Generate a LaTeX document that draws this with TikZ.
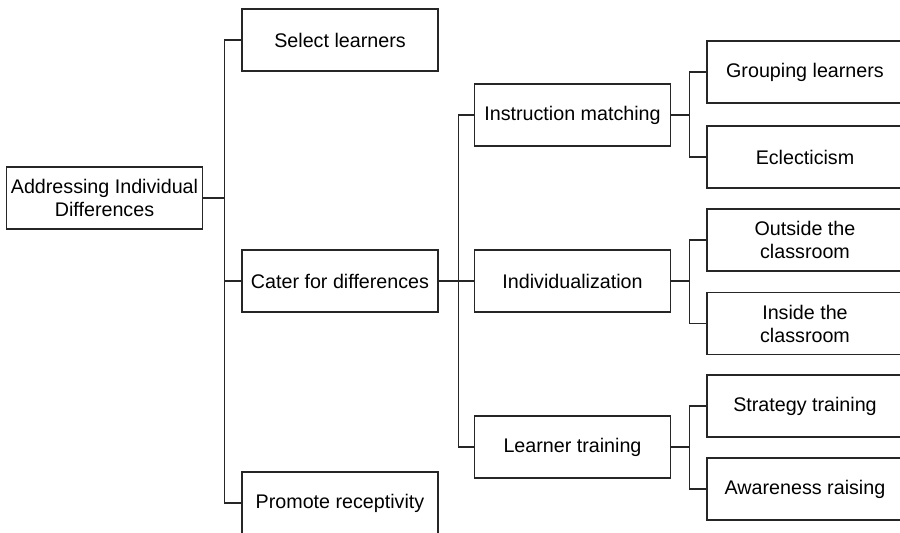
\documentclass[tikz,border=0pt]{standalone}
\usepackage{fontspec}
\setmainfont{Liberation Sans}
\usetikzlibrary{positioning}

\begin{document}
\begin{tikzpicture}[
    x=.5pt,
    y=-.5pt,
    box/.style={
      draw=black!85,
      line width=.7pt,
      minimum width=98pt,
      minimum height=31pt,
      inner sep=1pt,
      align=center,
      font=\fontsize{9.85}{11.5}\selectfont,
    },
    link/.style={
      line width=.7pt,
      color=black!85,
    },
  ]
    \useasboundingbox (0,0) rectangle (900,532);
    \clip (0,0) rectangle (900,532);

    % root and first level
    \node[box] (root) at (104.5,198) {Addressing Individual\\Differences};
    \node[box] (select) at (340,40) {Select learners};
    \node[box] (cater) at (340,281) {Cater for differences};
    \node[box] (promote) at (340,503) {Promote receptivity};

    % second level
    \node[box] (matching) at (572.5,115) {Instruction matching};
    \node[box] (indiv) at (572.5,281) {Individualization};
    \node[box] (training) at (572.5,447) {Learner training};

    % leaves
    \node[box] (grouping) at (805,72) {Grouping learners};
    \node[box] (eclectic) at (805,157) {Eclecticism};
    \node[box] (outside) at (805,240) {Outside the\\classroom};
    \node[box] (inside) at (805,323.5) {Inside the\\classroom};
    \node[box] (strategy) at (805,406) {Strategy training};
    \node[box] (awareness) at (805,489) {Awareness raising};

    \foreach \kid in {select,cater,promote}
      \draw[link] (root.east) -- ++(21,0) |- (\kid.west);
    \foreach \kid in {matching,indiv,training}
      \draw[link] (cater.east) -- ++(20,0) |- (\kid.west);

    \foreach \kid in {grouping,eclectic}
      \draw[link] (matching.east) -- ++(18,0) |- (\kid.west);
    \foreach \kid in {outside,inside}
      \draw[link] (indiv.east) -- ++(18,0) |- (\kid.west);
    \foreach \kid in {strategy,awareness}
      \draw[link] (training.east) -- ++(18,0) |- (\kid.west);
  \end{tikzpicture}
\end{document}
